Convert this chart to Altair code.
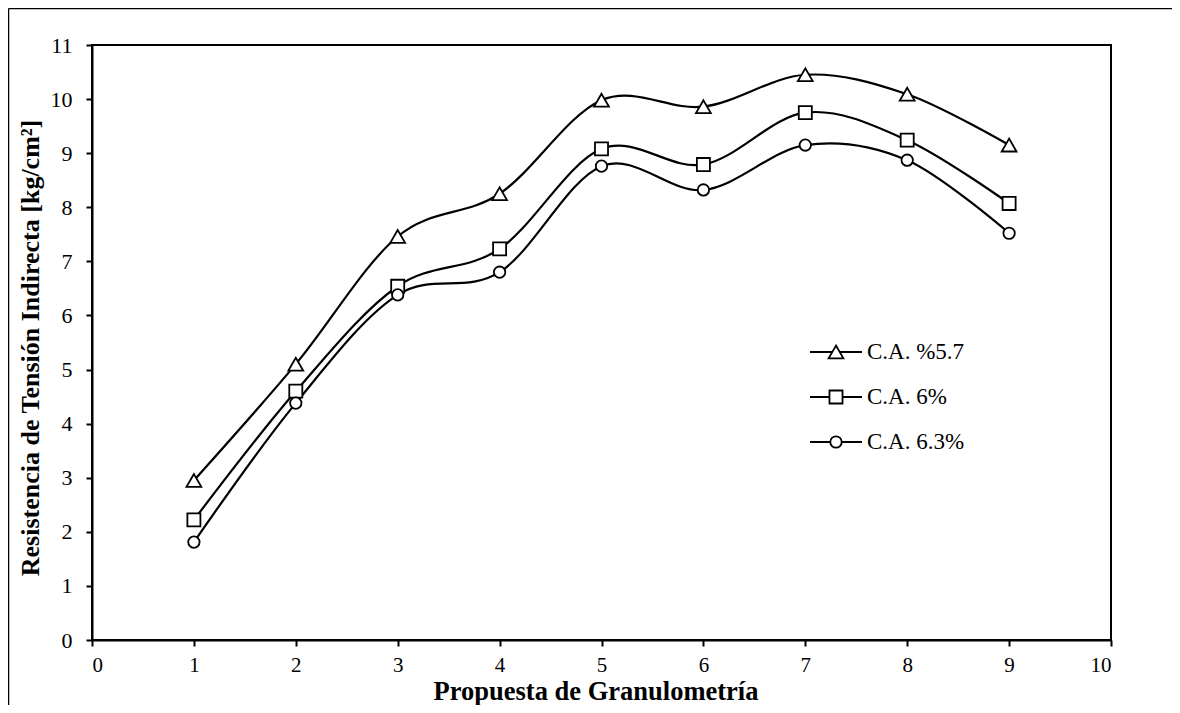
import altair as alt
import pandas as pd

# ---- data ----
propuesta = [1, 2, 3, 4, 5, 6, 7, 8, 9]
series_names = ["C.A. %5.7", "C.A. 6%", "C.A. 6.3%"]
ca_57 = [2.95, 5.10, 7.46, 8.25, 9.98, 9.86, 10.45, 10.09, 9.15]
ca_60 = [2.22, 4.60, 6.54, 7.23, 9.08, 8.79, 9.75, 9.24, 8.07]
ca_63 = [1.81, 4.38, 6.38, 6.80, 8.76, 8.32, 9.15, 8.87, 7.52]
x_ticks = [0, 1, 2, 3, 4, 5, 6, 7, 8, 9, 10]
y_ticks = [0, 1, 2, 3, 4, 5, 6, 7, 8, 9, 10, 11]

shapes = ["triangle-up", "square", "circle"]
sizes = [220, 170, 130]

rows = []
for name, vals in zip(series_names, [ca_57, ca_60, ca_63]):
    for x, v in zip(propuesta, vals):
        rows.append({"serie": name, "x": x, "y": v})
df = pd.DataFrame(rows)

W, H = 1019, 595
PAD_L, PAD_T, PAD_R, PAD_B = 84, 37, 61, 65
SERIF = "Liberation Serif"

x_enc = alt.X("x:Q", scale=alt.Scale(domain=[0, 10], nice=False, zero=False),
              axis=alt.Axis(values=x_ticks, title="Propuesta de Granulometría",
                            labelPadding=8, labelFontSize=21, titlePadding=3,
                            titleX=W / 2 - 6, titleFontSize=26.5))
y_enc = alt.Y("y:Q", scale=alt.Scale(domain=[0, 11], nice=False),
              axis=alt.Axis(values=y_ticks, title="Resistencia de Tensión Indirecta [kg/cm²]",
                            labelPadding=14, titlePadding=7, titleY=H / 2 + 5))

base = alt.Chart(df)
layers = []
for name, shp, sz in zip(series_names, shapes, sizes):
    sub = base.transform_filter(alt.datum.serie == name)
    layers.append(sub.mark_line(color="black", strokeWidth=2.2, interpolate="cardinal")
                  .encode(x=x_enc, y=y_enc))
for name, shp, sz in zip(series_names, shapes, sizes):
    sub = base.transform_filter(alt.datum.serie == name)
    layers.append(sub.mark_point(shape=shp, size=sz, filled=True, fill="white",
                                 stroke="black", strokeWidth=1.8, opacity=1)
                  .encode(x=x_enc, y=y_enc))

# ---- manual legend (line + marker + label) ----
leg_df = pd.DataFrame({"serie": series_names})
leg_y = [307, 352, 397]
for i, (name, shp, sz) in enumerate(zip(series_names, shapes, sizes)):
    one = alt.Chart(leg_df).transform_filter(alt.datum.serie == name)
    layers.append(one.mark_rule(color="black", strokeWidth=2.2)
                  .encode(x=alt.value(718), x2=alt.value(770), y=alt.value(leg_y[i])))
    layers.append(one.mark_point(shape=shp, size=sz, filled=True, fill="white",
                                 stroke="black", strokeWidth=1.8, opacity=1)
                  .encode(x=alt.value(744), y=alt.value(leg_y[i])))
    layers.append(one.mark_text(align="left", baseline="middle", font=SERIF,
                                fontSize=23, color="black")
                  .encode(x=alt.value(775), y=alt.value(leg_y[i]), text="serie:N"))

# ---- outer border of the figure ----
brd = alt.Chart(leg_df.head(1))
layers.append(brd.mark_rule(color="black", strokeWidth=1.5)
              .encode(x=alt.value(-83.5), y=alt.value(-36.5), y2=alt.value(H + PAD_B + 5)))
layers.append(brd.mark_rule(color="black", strokeWidth=1.5)
              .encode(x=alt.value(-83.5), x2=alt.value(W + PAD_R + 5), y=alt.value(-36.5)))

chart = alt.layer(*layers).properties(
    width=W, height=H,
    autosize=alt.AutoSizeParams(type="none"),
    padding={"left": PAD_L, "top": PAD_T, "right": PAD_R, "bottom": PAD_B},
    background="white",
).configure_view(
    stroke="black", strokeWidth=2
).configure_axis(
    grid=False, domainColor="black", domainWidth=2, tickColor="black", tickWidth=2,
    tickSize=6, labelFont=SERIF, labelFontSize=22, labelColor="black",
    titleFont=SERIF, titleFontSize=26, titleFontWeight="bold", titleColor="black",
)

chart.save("out.html", embed_options={"renderer": "svg", "actions": False})
